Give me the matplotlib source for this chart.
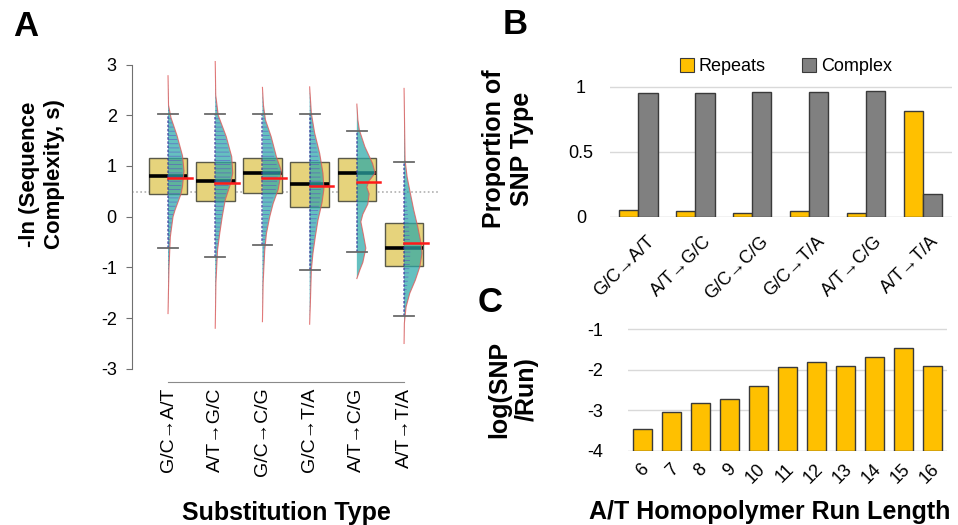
import matplotlib
matplotlib.use("Agg")
import matplotlib.pyplot as plt
import matplotlib.transforms as mtrans
from matplotlib.patches import Patch, Polygon, Rectangle
import numpy as np

plt.rcParams['font.family'] = ['Liberation Sans', 'DejaVu Sans']
plt.rcParams['axes.unicode_minus'] = False
plt.rcParams['hatch.linewidth'] = 0.6

# ---------------- data ----------------
subst_types = ['G/C→A/T', 'A/T→G/C', 'G/C→C/G', 'G/C→T/A', 'A/T→C/G', 'A/T→T/A']

# Panel A: box plot summary
box_q1 = [0.44, 0.31, 0.46, 0.20, 0.30, -0.97]
box_q3 = [1.16, 1.07, 1.15, 1.07, 1.15, -0.13]
box_median = [0.80, 0.70, 0.86, 0.64, 0.86, -0.61]
bean_mean = [0.76, 0.66, 0.76, 0.61, 0.68, -0.51]
whisker_low = [-0.625, -0.79, -0.55, -1.06, -0.69, -1.96]
whisker_high = [2.03, 2.03, 2.03, 2.03, 1.69, 1.07]
overall_mean = 0.49

# Panel A: half-violin density profiles (y value, relative width)
dens_y_1 = [2.78, 2.2, 1.95, 1.6, 1.2, 0.9, 0.6, 0.45, 0.13, 0.0, -0.4, -1.0, -1.5, -1.91]
dens_w_1 = [0, 0.5, 3, 9, 14.5, 16, 14.5, 13, 7, 5, 2.3, 1, 0.4, 0]
dens_y_2 = [3.06, 2.4, 2.0, 1.58, 1.18, 0.86, 0.66, 0.33, 0.0, -0.33, -0.66, -1.3, -2.2]
dens_w_2 = [0, 0.5, 3, 11, 16.5, 17.5, 15.5, 10, 7, 4.5, 2.3, 0.7, 0]
dens_y_3 = [2.55, 2.2, 1.91, 1.58, 1.18, 0.9, 0.53, 0.26, 0.0, -0.33, -0.66, -1.3, -2.07]
dens_w_3 = [0, 1, 3, 8.7, 14, 19, 15.7, 10.7, 7.3, 4, 2.3, 0.7, 0]
dens_y_4 = [2.56, 2.04, 1.65, 1.25, 0.86, 0.55, 0.27, -0.07, -0.39, -0.72, -1.05, -1.71, -2.12]
dens_w_4 = [0, 1.7, 5, 10, 13.3, 14.3, 12.3, 8.3, 5.7, 3.3, 1.7, 0.7, 0]
dens_y_5 = [2.22, 1.91, 1.71, 1.38, 1.05, 0.86, 0.70, 0.58, 0.45, 0.25, 0.05, -0.1, -0.35, -0.62, -0.9, -1.05, -1.22]
dens_w_5 = [0, 1, 2.5, 8, 15.7, 18.3, 12, 10, 12.3, 11, 6, 4, 6.5, 9, 6, 3, 0]
dens_y_6 = [2.53, 1.12, 0.79, 0.46, 0.13, -0.2, -0.53, -0.72, -0.99, -1.25, -1.51, -1.78, -2.1, -2.5]
dens_w_6 = [0, 1, 3, 6.3, 9.7, 13.7, 17, 18, 15.7, 11.3, 5.7, 2, 0.3, 0]

# Panel B
repeats = [0.051, 0.041, 0.031, 0.041, 0.031, 0.813]
complex_ = [0.949, 0.949, 0.956, 0.956, 0.964, 0.174]

# Panel C
run_lengths = ['6', '7', '8', '9', '10', '11', '12', '13', '14', '15', '16']
log_snp_run = [-3.46, -3.04, -2.83, -2.72, -2.41, -1.93, -1.81, -1.90, -1.70, -1.48, -1.90]

# ---------------- figure ----------------
W, H = 958, 525
fig = plt.figure(figsize=(W / 100, H / 100), dpi=100)


def ax_px(l, t, r, b):
    return fig.add_axes([l / W, 1 - b / H, (r - l) / W, (b - t) / H])


# ===== Panel A =====
axA = ax_px(132, 51.4, 439, 382)
axA.set_xlim(0.237, 6.74)
axA.set_ylim(-3.26, 3.26)

dens_y = [dens_y_1, dens_y_2, dens_y_3, dens_y_4, dens_y_5, dens_y_6]
dens_w = [dens_w_1, dens_w_2, dens_w_3, dens_w_4, dens_w_5, dens_w_6]
WSCALE = 1 / 47.2
bean_frac = [0.9, 0.9, 0.85, 0.8, 0.0, 0.35]
box_half = 0.41

axA.axhline(overall_mean, color='#b0b0b0', ls=(0, (1, 1.5)), lw=1.2, zorder=1)

for i in range(6):
    c = i + 1
    axA.add_patch(Rectangle((c - box_half, box_q1[i]), 2 * box_half, box_q3[i] - box_q1[i],
                            facecolor='#e6d37c', edgecolor='#5a5a4a', lw=1.0, zorder=2))
    axA.plot([c - box_half, c + box_half], [box_median[i]] * 2, color='black', lw=2.6,
             solid_capstyle='butt', zorder=3)
    ys = np.array(dens_y[i])
    ws = np.array(dens_w[i]) * WSCALE
    poly = np.column_stack([np.concatenate([[c], c + ws, [c]]),
                            np.concatenate([[ys[0]], ys, [ys[-1]]])])
    axA.add_patch(Polygon(poly, closed=True, facecolor='#2aa8a8', alpha=0.72,
                          edgecolor='none', zorder=4))
    if bean_frac[i] > 0:
        bp = np.column_stack([np.concatenate([[c], c + ws * bean_frac[i], [c]]),
                              np.concatenate([[ys[0]], ys, [ys[-1]]])])
        axA.add_patch(Polygon(bp, closed=True, facecolor='none', edgecolor='#5b3fc8',
                              hatch='----', lw=0, alpha=0.55, zorder=5))
    axA.plot([c, c], [whisker_low[i], whisker_high[i]], color='#34349a', lw=1.2,
             ls=(0, (1.5, 1)), zorder=6, alpha=0.7)
    axA.plot(c + ws, ys, color='#e05a5a', lw=0.8, alpha=0.8, zorder=6)
    axA.plot([c, c + 0.5], [bean_mean[i]] * 2, color='#ff1a1a', lw=1.8, zorder=7)
    for wv in (whisker_low[i], whisker_high[i]):
        axA.plot([c - 0.21, c + 0.21], [wv, wv], color='#6a6a6a', lw=1.3, zorder=7)

axA.spines['top'].set_visible(False)
axA.spines['right'].set_visible(False)
axA.spines['left'].set_bounds(-3, 3)
axA.spines['left'].set_color('#707070')
axA.spines['bottom'].set_bounds(1, 6)
axA.spines['bottom'].set_color('#8a8a8a')
axA.set_yticks([3, 2, 1, 0, -1, -2, -3])
axA.set_yticklabels(['3', '2', '1', '0', '-1', '-2', '-3'])
axA.tick_params(axis='y', length=4, color='#707070', labelsize=13, pad=7)
axA.set_xticks(range(1, 7))
axA.set_xticklabels(subst_types, rotation=90, fontsize=14)
axA.tick_params(axis='x', length=0, pad=4)

fig.text(42 / W, 1 - 174 / H, '-ln (Sequence\nComplexity, s)', rotation=90, ha='center',
         va='center', fontsize=16, fontweight='bold', multialignment='center', linespacing=1.3)
fig.text(286 / W, 1 - 513 / H, 'Substitution Type', ha='center', va='center',
         fontsize=18, fontweight='bold')

# ===== Panel B =====
axB = ax_px(610, 73.7, 951.7, 216.7)
x = np.arange(len(subst_types))
bw = 0.335
axB.bar(x - bw / 2, repeats, bw, color='#ffc000', edgecolor='#3a3a3a', lw=1.0, zorder=3,
        label='Repeats')
axB.bar(x + bw / 2, complex_, bw, color='#808080', edgecolor='#3a3a3a', lw=1.0, zorder=3,
        label='Complex')
axB.set_xlim(-0.5, 5.5)
axB.set_ylim(0, 1.1)
for gy in (0.5, 1.0):
    axB.axhline(gy, color='#d9d9d9', lw=1, zorder=0)
axB.axhline(0, color='#bfbfbf', lw=1, zorder=1)
for s in axB.spines.values():
    s.set_visible(False)
axB.set_yticks([0, 0.5, 1])
axB.set_yticklabels(['0', '0.5', '1'])
axB.tick_params(axis='y', length=0, labelsize=13, pad=21)
for lab in axB.get_yticklabels():
    lab.set_horizontalalignment('center')
axB.set_xticks([])
offB = mtrans.ScaledTranslation(0.13, -0.22, fig.dpi_scale_trans)
for i, lab in enumerate(subst_types):
    axB.text(i, 0, lab, transform=axB.get_xaxis_transform() + offB, rotation=45,
             rotation_mode='anchor', ha='right', va='center', fontsize=13)
handles = [Patch(facecolor='#ffc000', edgecolor='#3a3a3a', lw=0.8),
           Patch(facecolor='#808080', edgecolor='#3a3a3a', lw=0.8)]
fig.legend(handles, ['Repeats', 'Complex'], loc='center', bbox_to_anchor=(786 / W, 1 - 66.7 / H),
           ncol=2, frameon=False, fontsize=13, handlelength=0.75, handleheight=0.75,
           handletextpad=0.3, columnspacing=2.0)
fig.text(508 / W, 1 - 149 / H, 'Proportion of\nSNP Type', rotation=90, ha='center', va='center',
         fontsize=18, fontweight='bold', multialignment='center', linespacing=1.2)

# ===== Panel C =====
axC = ax_px(628, 320.9, 947, 450.7)
xc = np.arange(len(run_lengths))
base = -4
axC.bar(xc, np.array(log_snp_run) - base, 0.66, bottom=base, color='#ffc000',
        edgecolor='#3a3a3a', lw=1.0, zorder=3)
axC.set_xlim(-0.5, 10.5)
axC.set_ylim(-4, -0.8)
for gy in (-1, -2, -3):
    axC.axhline(gy, color='#d9d9d9', lw=1, zorder=0)
axC.axhline(-4, color='#bfbfbf', lw=1, zorder=1)
for s in axC.spines.values():
    s.set_visible(False)
axC.set_yticks([-1, -2, -3, -4])
axC.set_yticklabels(['-1', '-2', '-3', '-4'])
axC.tick_params(axis='y', length=0, labelsize=13, pad=18)
axC.set_xticks([])
offC = mtrans.ScaledTranslation(0.04, -0.16, fig.dpi_scale_trans)
for i, lab in enumerate(run_lengths):
    axC.text(i, 0, lab, transform=axC.get_xaxis_transform() + offC, rotation=45,
             rotation_mode='anchor', ha='right', va='center', fontsize=13)
fig.text(513 / W, 1 - 389 / H, 'log(SNP\n/Run)', rotation=90, ha='center', va='center',
         fontsize=18, fontweight='bold', multialignment='center', linespacing=1.2)
fig.text(770 / W, 1 - 512 / H, 'A/T Homopolymer Run Length', ha='center', va='center',
         fontsize=18, fontweight='bold')

# panel letters
fig.text(26 / W, 1 - 27 / H, 'A', ha='center', va='center', fontsize=25, fontweight='bold')
fig.text(515 / W, 1 - 25 / H, 'B', ha='center', va='center', fontsize=25, fontweight='bold')
fig.text(490 / W, 1 - 302 / H, 'C', ha='center', va='center', fontsize=25, fontweight='bold')

fig.savefig('out.png', dpi=100)
